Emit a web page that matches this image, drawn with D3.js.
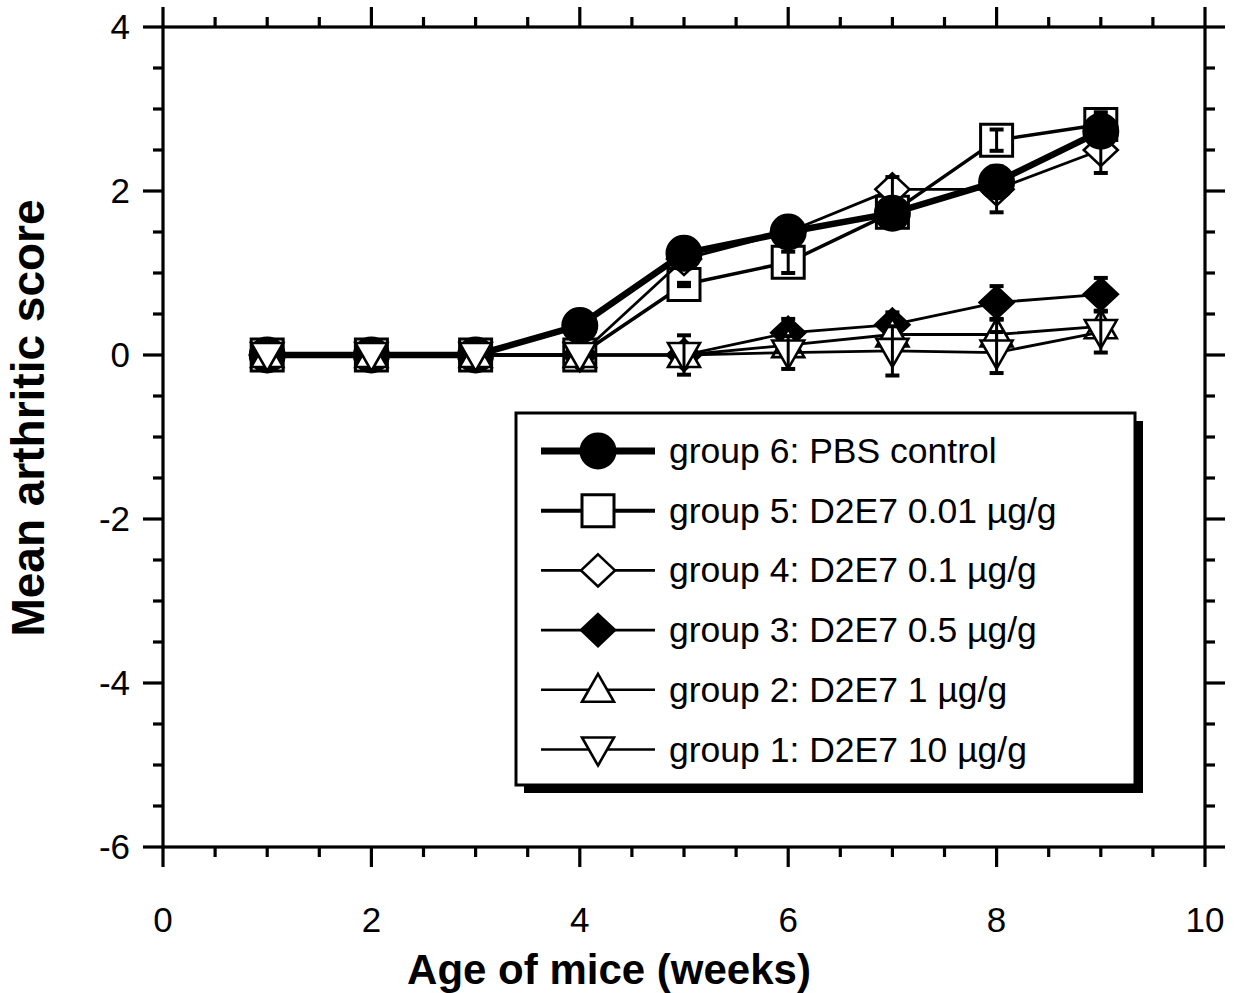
<!DOCTYPE html>
<html><head><meta charset="utf-8">
<script src="https://cdn.jsdelivr.net/npm/d3@7"></script>
<style>body{margin:0;background:#fff}svg{display:block}text{font-family:"Liberation Sans",Arial,sans-serif}</style>
</head><body>
<script>
const weeks = [1,2,3,4,5,6,7,8,9];
const seriesNames = ["group 6: PBS control","group 5: D2E7 0.01 µg/g","group 4: D2E7 0.1 µg/g","group 3: D2E7 0.5 µg/g","group 2: D2E7 1 µg/g","group 1: D2E7 10 µg/g"];
const g6 = [0,0,0,0.36,1.24,1.50,1.73,2.11,2.73];
const g5 = [0,0,0,0,0.86,1.13,1.74,2.62,2.81];
const g4 = [0,0,0,0,1.17,1.50,2.02,2.02,2.50];
const g3 = [0,0,0,0,0,0.27,0.37,0.64,0.74];
const g2 = [0,0,0,0,0,0.12,0.25,0.25,0.35];
const g1 = [0,0,0,0,0,0.03,0.05,0.03,0.28];
const e6 = [0,0,0,0,0,0,0,0,0];
const e5 = [0,0,0,0,0.02,0.13,0,0.13,0.15];
const e4 = [0,0,0,0,0,0,0.15,0.28,0.28];
const e3 = [0,0,0,0,0,0.17,0.15,0.2,0.2];
const e2 = [0,0,0,0,0,0,0,0.18,0];
const e1 = [0,0,0,0,0.24,0.2,0.3,0.25,0.25];
const xTicks = [0,2,4,6,8,10];
const yTicks = [-6,-4,-2,0,2,4];

const W=1235,H=993;
const svg=d3.select("body").append("svg").attr("width",W).attr("height",H);
const x=d3.scaleLinear().domain([0,10]).range([163,1205]);
const y=d3.scaleLinear().domain([-6,4]).range([847,27]);

function markerPath(kind){
  if(kind==="circle") return d3.symbol().type(d3.symbolCircle).size(Math.PI*17.5*17.5)();
  if(kind==="square") return "M-16,-16H16V16H-16Z";
  if(kind==="diamondOpen"||kind==="diamondFill") return "M0,-16L17,0L0,16L-17,0Z";
  if(kind==="triUp") return "M0,-16L16,12L-16,12Z";
  if(kind==="triDown") return "M0,16L16,-12L-16,-12Z";
}
const series=[
  {name:seriesNames[1],vals:g5,err:e5,kind:"square",fill:"#fff",lw:3.5,legLw:4,ms:3},
  {name:seriesNames[2],vals:g4,err:e4,kind:"diamondOpen",fill:"#fff",lw:2.8,legLw:2.6,ms:2.6},
  {name:seriesNames[3],vals:g3,err:e3,kind:"diamondFill",fill:"#000",lw:2.8,legLw:2.6,ms:2.6},
  {name:seriesNames[0],vals:g6,err:e6,kind:"circle",fill:"#000",lw:6.5,legLw:7,ms:2},
  {name:seriesNames[4],vals:g2,err:e2,kind:"triUp",fill:"#fff",lw:2.8,legLw:2.6,ms:2.6},
  {name:seriesNames[5],vals:g1,err:e1,kind:"triDown",fill:"#fff",lw:2.8,legLw:2.6,ms:2.6}
];

// axes frame
const frame=svg.append("g");
frame.append("rect").attr("x",x(0)).attr("y",y(4)).attr("width",x(10)-x(0)).attr("height",y(-6)-y(4))
  .attr("fill","none").attr("stroke","#000").attr("stroke-width",3.2);
const xMinor=d3.range(0,10.01,0.5), yMinor=d3.range(-6,4.01,0.5);
function tickLen(v){return Math.abs(v%2)<1e-9?20:10;}
xMinor.forEach(v=>{
  const L=tickLen(v);
  frame.append("line").attr("x1",x(v)).attr("x2",x(v)).attr("y1",y(-6)).attr("y2",y(-6)+L).attr("stroke","#000").attr("stroke-width",3.2);
  frame.append("line").attr("x1",x(v)).attr("x2",x(v)).attr("y1",y(4)).attr("y2",y(4)-L).attr("stroke","#000").attr("stroke-width",3.2);
});
yMinor.forEach(v=>{
  const L=tickLen(v);
  frame.append("line").attr("y1",y(v)).attr("y2",y(v)).attr("x1",x(0)).attr("x2",x(0)-L).attr("stroke","#000").attr("stroke-width",3.2);
  frame.append("line").attr("y1",y(v)).attr("y2",y(v)).attr("x1",x(10)).attr("x2",x(10)+L).attr("stroke","#000").attr("stroke-width",3.2);
});
// tick labels
xTicks.forEach(v=>svg.append("text").attr("x",x(v)).attr("y",932).attr("text-anchor","middle").attr("font-size",35).text(v));
yTicks.forEach(v=>svg.append("text").attr("x",130).attr("y",y(v)+12).attr("text-anchor","end").attr("font-size",35).text(v));
svg.append("text").attr("x",609).attr("y",984).attr("text-anchor","middle").attr("font-size",42).attr("font-weight","bold").text("Age of mice (weeks)");
svg.append("text").attr("transform","translate(44,418) rotate(-90)").attr("text-anchor","middle").attr("font-size",46).attr("font-weight","bold").text("Mean arthritic score");

// data
const line=d3.line().x((d,i)=>x(weeks[i])).y(d=>y(d));
const plot=svg.append("g");
series.forEach(s=>{
  const g=plot.append("g");
  g.append("path").attr("d",line(s.vals)).attr("fill","none").attr("stroke","#000").attr("stroke-width",s.lw).attr("stroke-linejoin","round");
  s.vals.forEach((v,i)=>{
    g.append("path").attr("d",markerPath(s.kind)).attr("transform",`translate(${x(weeks[i])},${y(v)})`)
      .attr("fill",s.fill).attr("stroke","#000").attr("stroke-width",s.ms);
  });
  s.vals.forEach((v,i)=>{
    const e=s.err[i]; if(!e) return;
    const cx=x(weeks[i]);
    g.append("line").attr("x1",cx).attr("x2",cx).attr("y1",y(v-e)).attr("y2",y(v+e)).attr("stroke","#000").attr("stroke-width",3);
    [v-e,v+e].forEach(t=>g.append("line").attr("x1",cx-7).attr("x2",cx+7).attr("y1",y(t)).attr("y2",y(t)).attr("stroke","#000").attr("stroke-width",4));
  });
});

// legend
const lg=svg.append("g");
lg.append("rect").attr("x",1135).attr("y",421).attr("width",8).attr("height",372).attr("fill","#000");
lg.append("rect").attr("x",524).attr("y",785).attr("width",619).attr("height",8).attr("fill","#000");
lg.append("rect").attr("x",516).attr("y",413).attr("width",619).attr("height",372).attr("fill","#fff").attr("stroke","#000").attr("stroke-width",3);
const legOrder=[3,0,1,2,4,5];
legOrder.forEach((si,r)=>{
  const s=series[si]; const cy=451+r*59.7;
  lg.append("line").attr("x1",541).attr("x2",655).attr("y1",cy).attr("y2",cy).attr("stroke","#000").attr("stroke-width",s.legLw);
  lg.append("path").attr("d",markerPath(s.kind)).attr("transform",`translate(598,${cy})`).attr("fill",s.fill).attr("stroke","#000").attr("stroke-width",s.ms);
  lg.append("text").attr("x",669).attr("y",cy+12).attr("font-size",35.5).text(s.name);
});
</script>
</body></html>
